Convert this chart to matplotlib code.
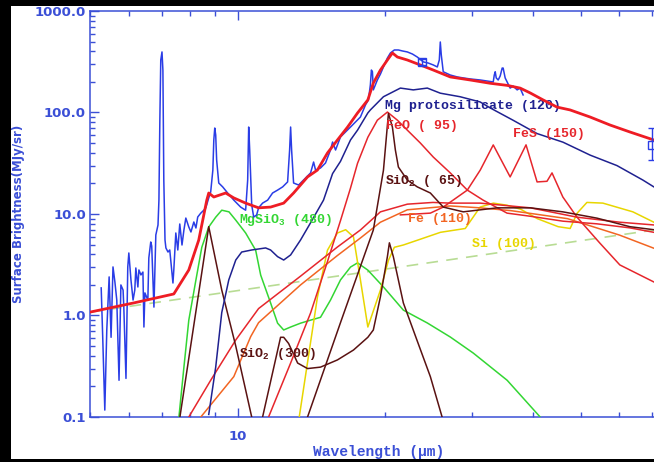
import matplotlib
matplotlib.use("Agg")
import matplotlib.pyplot as plt
from matplotlib.patches import Rectangle
from matplotlib.ticker import FixedLocator, FixedFormatter, LogLocator, NullFormatter

plt.rcParams['mathtext.default'] = 'regular'

# ---------------- data ----------------
# IRS spectrum (wavelength in micron, surface brightness in MJy/sr)
obs_wave = [5.27, 5.31, 5.36, 5.41, 5.47, 5.52, 5.57, 5.62, 5.67, 5.73, 5.78, 5.84, 5.86, 5.92,
            5.97, 6.00, 6.06, 6.12, 6.17, 6.20, 6.26, 6.29, 6.35, 6.41, 6.44, 6.47, 6.56, 6.59,
            6.65, 6.68, 6.75, 6.81, 6.88, 6.91, 6.94, 6.97, 7.01, 7.04, 7.07, 7.11, 7.14, 7.21,
            7.27, 7.31, 7.38, 7.41, 7.48, 7.55, 7.62, 7.70, 7.77, 7.84, 7.95, 8.03, 8.14, 8.22,
            8.29, 8.41, 8.53, 8.61, 8.73, 8.81, 8.90, 8.94, 8.98, 9.02, 9.06, 9.15, 9.32, 9.54,
            9.82, 10.14, 10.38, 10.48, 10.53, 10.58, 10.68, 10.78, 10.93, 11.03, 11.24, 11.51,
            11.78, 12.06, 12.35, 12.64, 12.76, 12.82, 12.88, 13.00, 13.31, 13.62, 13.88, 14.08,
            14.28, 14.41, 14.75, 15.10, 15.46, 15.61, 15.83, 16.20, 16.59, 16.98, 17.38, 17.79,
            18.22, 18.47, 18.64, 18.73, 18.82, 18.90, 19.08, 19.26, 19.54, 19.82, 20.19, 20.48,
            20.86, 21.26, 21.66, 22.17, 22.70, 23.23, 23.90, 24.46, 25.04, 25.52, 25.76, 25.88,
            26.00, 26.24, 27.12, 28.03, 28.83, 29.79, 31.22, 32.26, 33.18, 33.34, 33.49, 33.65,
            33.96, 34.28, 34.60, 34.76, 35.09, 35.42, 35.92, 36.43, 37.12, 37.64, 38.17]
obs_flux = [1.87, 0.57, 0.117, 0.72, 2.40, 0.61, 3.01, 2.14, 1.42, 0.23, 2.00, 1.78, 1.21, 0.24,
            3.01, 4.13, 2.24, 1.42, 1.78, 2.94, 1.91, 2.81, 2.51, 2.68, 0.77, 1.67, 1.42, 3.69,
            5.30, 4.84, 1.21, 6.21, 7.79, 13.7, 84.0, 329.0, 395.0, 262.0, 21.6, 5.54, 4.63, 4.22,
            4.42, 3.37, 2.09, 2.81, 6.50, 4.42, 7.97, 4.95, 6.96, 9.12, 7.45, 6.65, 8.34, 7.28,
            9.34, 10.2, 10.9, 11.5, 14.4, 16.5, 27.1, 53.6, 70.3, 60.0, 34.0, 20.2, 18.5, 16.1,
            13.7, 11.7, 10.9, 21.6, 71.9, 42.7, 12.3, 9.34, 9.78, 11.5, 12.8, 13.7,
            16.1, 17.2, 18.5, 20.7, 42.7, 71.9, 42.7, 20.2, 19.3, 21.6, 23.7, 25.4,
            32.5, 27.1, 28.4, 31.8, 42.7, 51.2, 42.7, 57.4, 64.3, 71.9, 80.6, 90.3,
            119.0, 133.0, 187.0, 262.0, 252.0, 167.0, 187.0, 209.0, 239.0, 281.0, 344.0, 386.0,
            413.0, 413.0, 404.0, 395.0, 377.0, 352.0, 315.0, 307.0, 294.0, 281.0, 329.0, 495.0,
            369.0, 252.0, 234.0, 224.0, 219.0, 214.0, 209.0, 204.0, 200.0, 234.0, 252.0, 219.0,
            209.0, 229.0, 274.0, 274.0, 219.0, 200.0, 174.0, 182.0, 167.0, 174.0, 149.0]

# broadband photometry (24 and 70 micron)
phot_wave = [23.7, 70.0]
phot_flux = [315.0, 48.0]
phot_err_lo = [20.0, 14.0]
phot_err_hi = [20.0, 22.0]

# total model
model_wave = [5.0, 6.14, 7.41, 7.95, 8.33, 8.65, 8.73, 8.94, 9.45, 9.82, 10.38, 11.03, 11.67,
              12.41, 13.00, 13.88, 14.54, 15.24, 15.97, 16.75, 17.55, 18.42, 18.90, 19.54,
              20.19, 20.67, 21.16, 22.17, 23.56, 25.04, 27.12, 29.79, 32.72, 35.42, 37.64,
              39.45, 41.93, 44.76, 47.58, 52.26, 57.39, 63.0, 70.5, 75.0]
model_flux = [1.08, 1.33, 1.63, 2.81, 5.54, 13.7, 16.1, 14.7, 16.1, 14.4, 12.8, 11.5, 11.7,
              12.8, 16.1, 23.2, 27.1, 39.9, 53.6, 71.9, 98.9, 133.0, 195.0, 262.0,
              329.0, 386.0, 352.0, 329.0, 294.0, 262.0, 224.0, 209.0, 194.0, 185.0, 174.0,
              156.0, 133.0, 113.0, 106.0, 90.3, 75.3, 64.3, 53.6, 50.0]

# dust components
mgproto_wave = [8.73, 9.02, 9.28, 9.59, 9.91, 10.19, 10.68, 11.40, 11.67, 12.06, 12.41, 12.82,
                13.43, 14.08, 14.96, 15.61, 16.20, 16.98, 17.55, 18.42, 18.64, 19.82, 21.46,
                22.8, 24.35, 25.88, 28.4, 31.2, 32.7, 36.4, 40.76, 46.03, 52.3, 59.29, 66.96,
                70.5, 75.0]
mgproto_flux = [0.106, 0.31, 1.07, 2.24, 3.52, 4.22, 4.42, 4.63, 4.42, 3.8, 3.52, 3.95,
                5.54, 8.2, 13.7, 25.0, 33.0, 53.6, 67.0, 99.0, 106.0, 143.0, 174.0,
                167.0, 174.0, 155.0, 143.0, 127.0, 111.0, 84.0, 62.0, 51.0, 38.0, 30.0, 21.6,
                18.5, 16.5]

feo_wave = [11.56, 12.82, 14.08, 15.24, 16.20, 16.98, 17.55, 18.42, 19.26, 20.19, 21.16, 22.17,
            23.56, 25.04, 27.12, 29.38, 31.64, 35.4, 39.5, 46.0, 53.99, 63.0, 70.5, 75.0]
feo_flux = [0.1, 0.34, 1.06, 3.4, 8.6, 18.0, 31.6, 57.0, 84.0, 101.0, 84.0, 67.0,
            50.1, 36.4, 25.4, 17.2, 13.7, 10.2, 9.5, 8.5, 8.0, 7.3, 6.6, 6.3]

sio2_65_wave = [13.88, 16.2, 18.9, 19.82, 20.29, 20.67, 20.96, 21.26, 22.17, 23.23, 24.7, 26.24,
                28.83, 33.8, 39.5, 46.0, 54.0, 63.0, 70.5, 75.0]
sio2_65_flux = [0.1, 0.85, 6.96, 27.0, 98.0, 71.9, 42.7, 29.0, 21.6, 18.5, 16.1, 11.7,
                10.5, 11.5, 11.5, 10.5, 9.1, 7.5, 7.0, 6.7]

fes_wave = [21.46, 24.7, 26.24, 29.38, 31.22, 33.18, 35.92, 38.7, 40.76, 42.7, 43.72, 46.0,
            49.16, 54.7, 60.1, 70.5, 75.0]
fes_flux = [9.8, 10.2, 11.7, 17.2, 27.1, 47.9, 23.2, 48.0, 20.7, 21.0, 25.4, 14.7,
            9.3, 5.18, 3.15, 2.14, 1.9]

hot_wave = [7.95, 8.81, 9.91, 11.03, 13.43, 15.97, 17.79, 19.54, 22.17, 25.0, 27.1, 31.2,
            39.5, 49.2, 60.1, 70.5, 75.0]
hot_flux = [0.1, 0.23, 0.574, 1.17, 2.44, 4.73, 6.96, 10.5, 12.5, 13.0, 12.8, 12.8,
            11.5, 9.3, 8.3, 7.8, 7.5]

fe_wave = [8.41, 9.82, 10.63, 11.03, 13.43, 15.97, 17.79, 19.54, 22.17, 27.1, 31.2, 36.0,
           47.0, 60.0, 70.5, 75.0]
fe_flux = [0.1, 0.25, 0.62, 0.85, 2.0, 3.9, 5.8, 8.3, 11.0, 12.0, 11.5, 10.8,
           9.0, 6.2, 4.6, 4.2]

si_wave = [13.35, 14.54, 15.24, 15.97, 16.6, 17.22, 17.79, 18.42, 19.54, 20.29, 20.86, 21.76,
           23.2, 25.9, 29.1, 31.2, 33.2, 35.4, 37.8, 40.8, 45.0, 47.6, 49.2, 51.5, 55.5,
           63.9, 70.5, 75.0]
si_flux = [0.1, 1.52, 4.4, 6.5, 7.0, 5.94, 2.24, 0.77, 1.78, 3.5, 4.7, 4.95,
           5.5, 6.6, 7.2, 11.7, 12.8, 12.2, 11.1, 9.0, 7.5, 7.2, 10.2, 13.0, 12.8,
           10.5, 8.3, 7.6]

mgsio3_wave = [7.59, 7.77, 7.95, 8.22, 8.45, 8.73, 9.02, 9.28, 9.6, 9.91, 10.38, 10.88, 11.14,
               11.67, 12.06, 12.41, 12.82, 13.43, 14.08, 14.75, 15.46, 16.2, 16.98, 17.55,
               18.42, 19.82, 21.76, 24.35, 27.12, 30.2, 35.42, 41.35, 45.0]
mgsio3_flux = [0.1, 0.31, 0.9, 2.24, 4.7, 7.45, 9.3, 10.9, 10.5, 8.7, 6.5, 4.4, 2.5,
               1.33, 0.84, 0.72, 0.77, 0.84, 0.9, 0.96, 1.42, 2.24, 3.0, 3.3,
               2.8, 1.91, 1.13, 0.844, 0.614, 0.427, 0.23, 0.1, 0.06]

sio2_300_wave = [7.6, 8.73, 9.28, 9.91, 10.38, 10.68, 10.95, 11.24, 12.23, 12.41, 12.7, 13.25,
                 13.88, 14.75, 15.97, 17.22, 18.42, 18.9, 19.54, 20.19, 20.38, 20.76, 21.76,
                 23.2, 24.7, 26.1, 27.0]
sio2_300_flux = [0.09, 7.5, 1.78, 0.5, 0.185, 0.1, 0.06, 0.1, 0.61, 0.61, 0.53, 0.34,
                 0.30, 0.31, 0.365, 0.457, 0.61, 0.72, 1.53, 3.8, 5.2, 3.8, 1.33,
                 0.57, 0.25, 0.1, 0.07]

# power-law continuum
cont_wave = [5.0, 75.0]
cont_flux = [1.08, 7.26]

# axis ticks
ytick_vals = [0.1, 1.0, 10.0, 100.0, 1000.0]
ytick_labels = ["0.1", "1.0", "10.0", "100.0", "1000.0"]
xtick_vals = [10]
xtick_labels = ["10"]

# ---------------- styling ----------------
AXIS_BLUE = '#3b4fd6'
OBS_BLUE = '#2a3de6'
TOTAL_RED = '#ee1c24'
NAVY = '#1f2190'
RED = '#e6262c'
BROWN = '#5a1212'
ORANGE = '#f26522'
YELLOW = '#e8d600'
GREEN = '#33d633'
DASH_GREEN = '#b8dc94'

LABEL_FONT = dict(family='Liberation Mono', weight='bold', size=9.5)

fig = plt.figure(figsize=(6.54, 4.62), dpi=100, facecolor='black')
fig.add_artist(Rectangle((11 / 654, 3 / 462), 1 - 11 / 654, 453 / 462,
                         transform=fig.transFigure, facecolor='white',
                         edgecolor='none', zorder=-1))

ax = fig.add_axes([0.1376, 0.0974, 0.8823, 0.8788])
ax.set_facecolor('white')
ax.set_xscale('log')
ax.set_yscale('log')
ax.set_xlim(5, 75)
ax.set_ylim(0.1, 1000)

lw = 1.1
ax.plot(cont_wave, cont_flux, color=DASH_GREEN, lw=1.2, ls=(0, (7, 5)), zorder=2)
ax.plot(mgsio3_wave, mgsio3_flux, color=GREEN, lw=lw, zorder=3)
ax.plot(si_wave, si_flux, color=YELLOW, lw=lw, zorder=3)
ax.plot(fe_wave, fe_flux, color=ORANGE, lw=lw, zorder=3)
ax.plot(hot_wave, hot_flux, color=RED, lw=lw, zorder=3)
ax.plot(sio2_300_wave, sio2_300_flux, color=BROWN, lw=lw, zorder=3)
ax.plot(fes_wave, fes_flux, color=RED, lw=lw, zorder=3)
ax.plot(feo_wave, feo_flux, color=RED, lw=lw, zorder=3)
ax.plot(sio2_65_wave, sio2_65_flux, color=BROWN, lw=lw, zorder=3)
ax.plot(mgproto_wave, mgproto_flux, color=NAVY, lw=lw, zorder=3)
ax.plot(obs_wave, obs_flux, color=OBS_BLUE, lw=1.1, zorder=4)
ax.plot(model_wave, model_flux, color=TOTAL_RED, lw=2.0, zorder=5)
ax.errorbar(phot_wave, phot_flux, yerr=[phot_err_lo, phot_err_hi], fmt='s',
            mfc='none', mec=OBS_BLUE, ecolor=OBS_BLUE, ms=6, mew=1.0,
            elinewidth=1.0, capsize=3, zorder=6)

# component labels
ax.text(20.0, 116, "Mg protosilicate (120)", color=NAVY, va='center', **LABEL_FONT)
ax.text(20.1, 73.6, "FeO ( 95)", color=RED, va='center', **LABEL_FONT)
ax.text(36.4, 61.4, "FeS (150)", color=RED, va='center', **LABEL_FONT)
ax.text(20.0, 21.0, "SiO$_2$ ( 65)", color=BROWN, va='center', **LABEL_FONT)
ax.text(22.2, 9.0, "Fe (110)", color=ORANGE, va='center', **LABEL_FONT)
ax.text(30.0, 5.06, "Si (100)", color=YELLOW, va='center', **LABEL_FONT)
ax.text(10.05, 8.7, "MgSiO$_3$ (480)", color=GREEN, va='center', **LABEL_FONT)
ax.text(10.05, 0.415, "SiO$_2$ (300)", color=BROWN, va='center', **LABEL_FONT)

# axes styling
for side in ('left', 'top', 'bottom', 'right'):
    ax.spines[side].set_color(AXIS_BLUE)
    ax.spines[side].set_linewidth(1.1)

ax.yaxis.set_major_locator(FixedLocator(ytick_vals))
ax.yaxis.set_major_formatter(FixedFormatter(ytick_labels))
ax.yaxis.set_minor_locator(LogLocator(base=10, subs=range(2, 10)))
ax.yaxis.set_minor_formatter(NullFormatter())
ax.xaxis.set_major_locator(FixedLocator(xtick_vals))
ax.xaxis.set_major_formatter(FixedFormatter(xtick_labels))
ax.xaxis.set_minor_locator(LogLocator(base=10, subs=range(2, 10)))
ax.xaxis.set_minor_formatter(NullFormatter())

ax.tick_params(which='both', direction='in', color=AXIS_BLUE, width=1.0,
               top=True, right=True)
ax.tick_params(which='major', length=6.5)
ax.tick_params(which='minor', length=3.5)
ax.tick_params(axis='y', which='major', pad=3, labelcolor=AXIS_BLUE)
ax.tick_params(axis='x', which='major', pad=9, labelcolor=AXIS_BLUE)
for lab in ax.get_yticklabels() + ax.get_xticklabels():
    lab.set_fontfamily('DejaVu Sans')
    lab.set_fontweight('bold')
    lab.set_fontsize(9.5)

ax.set_xlabel("Wavelength (μm)", color=AXIS_BLUE, family='Liberation Mono',
              weight='bold', size=10.5)
ax.xaxis.set_label_coords(0.5, -0.069)
ax.set_ylabel("Surface Brightness(MJy/sr)", color=AXIS_BLUE, family='DejaVu Sans',
              weight='bold', size=8.5)
ax.yaxis.set_label_coords(-0.113, 0.5)

fig.savefig("out.png", dpi=100, facecolor=fig.get_facecolor())
